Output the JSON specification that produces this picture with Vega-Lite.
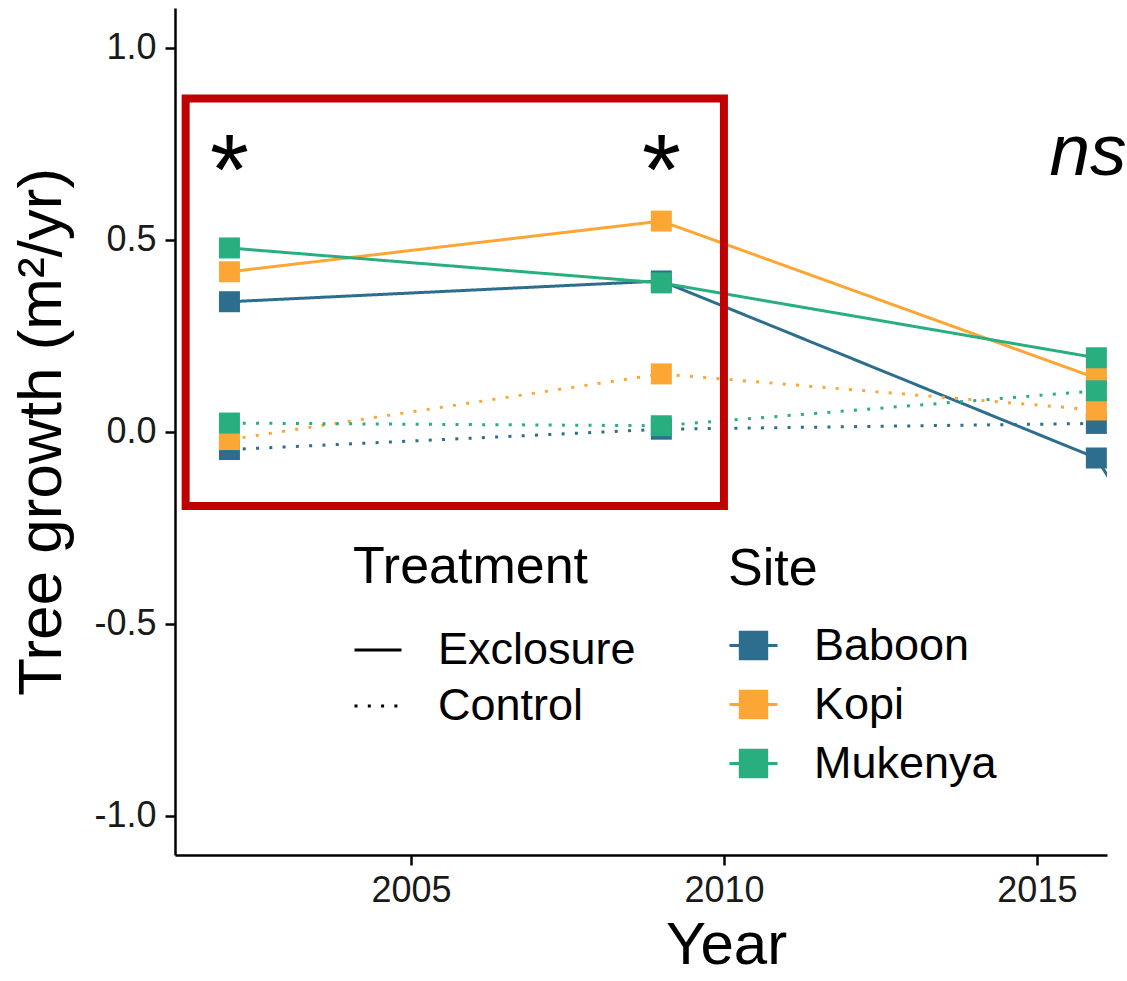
{
  "$schema": "https://vega.github.io/schema/vega-lite/v6.json",
  "width": 932,
  "height": 847,
  "autosize": {"type": "none"},
  "padding": {"left": 175, "top": 8, "right": 20, "bottom": 126},
  "background": "white",
  "config": {
    "font": "Liberation Sans",
    "view": {"stroke": null},
    "axis": {
      "grid": false,
      "domainColor": "black",
      "domainWidth": 2.5,
      "tickColor": "black",
      "tickWidth": 2.5,
      "tickSize": 10,
      "labelColor": "#1a1a1a",
      "labelFontSize": 36,
      "labelFont": "Liberation Sans",
      "titleFont": "Liberation Sans",
      "titleFontSize": 60,
      "titleFontWeight": "normal",
      "titleColor": "black"
    },
    "legend": {
      "titleFont": "Liberation Sans",
      "labelFont": "Liberation Sans",
      "titleFontSize": 52,
      "titleFontWeight": "normal",
      "titleColor": "black",
      "labelFontSize": 45,
      "labelColor": "black",
      "labelOffset": 35,
      "labelLimit": 0,
      "titleLimit": 0,
      "symbolOpacity": 1
    }
  },
  "datasets": {
    "growth": [
      {"Site": "Baboon", "Treatment": "Exclosure", "Year": 2002.1, "Growth": 0.339},
      {"Site": "Baboon", "Treatment": "Exclosure", "Year": 2009.0, "Growth": 0.393},
      {"Site": "Baboon", "Treatment": "Exclosure", "Year": 2015.95, "Growth": -0.068},
      {"Site": "Baboon", "Treatment": "Exclosure", "Year": 2017.0, "Growth": -0.34},
      {"Site": "Baboon", "Treatment": "Control", "Year": 2002.1, "Growth": -0.046},
      {"Site": "Baboon", "Treatment": "Control", "Year": 2009.0, "Growth": 0.007},
      {"Site": "Baboon", "Treatment": "Control", "Year": 2015.95, "Growth": 0.022},
      {"Site": "Kopi", "Treatment": "Exclosure", "Year": 2002.1, "Growth": 0.417},
      {"Site": "Kopi", "Treatment": "Exclosure", "Year": 2009.0, "Growth": 0.549},
      {"Site": "Kopi", "Treatment": "Exclosure", "Year": 2015.95, "Growth": 0.14},
      {"Site": "Kopi", "Treatment": "Exclosure", "Year": 2017.0, "Growth": -0.2},
      {"Site": "Kopi", "Treatment": "Control", "Year": 2002.1, "Growth": -0.02},
      {"Site": "Kopi", "Treatment": "Control", "Year": 2009.0, "Growth": 0.151},
      {"Site": "Kopi", "Treatment": "Control", "Year": 2015.95, "Growth": 0.057},
      {"Site": "Mukenya", "Treatment": "Exclosure", "Year": 2002.1, "Growth": 0.479},
      {"Site": "Mukenya", "Treatment": "Exclosure", "Year": 2009.0, "Growth": 0.388},
      {"Site": "Mukenya", "Treatment": "Exclosure", "Year": 2015.95, "Growth": 0.193},
      {"Site": "Mukenya", "Treatment": "Exclosure", "Year": 2017.0, "Growth": -0.22},
      {"Site": "Mukenya", "Treatment": "Control", "Year": 2002.1, "Growth": 0.023},
      {"Site": "Mukenya", "Treatment": "Control", "Year": 2009.0, "Growth": 0.016},
      {"Site": "Mukenya", "Treatment": "Control", "Year": 2015.95, "Growth": 0.107}
    ],
    "box": [
      {"Year": 2001.4, "Year2": 2010.0, "Growth": 0.868, "Growth2": -0.193}
    ],
    "stars": [
      {"Year": 2002.1, "Growth": 0.594, "label": "*"},
      {"Year": 2009.0, "Growth": 0.594, "label": "*"}
    ],
    "ns": [
      {"Year": 2015.2, "Growth": 0.669, "label": "ns"}
    ]
  },
  "encoding": {
    "x": {
      "field": "Year",
      "type": "quantitative",
      "scale": {"domain": [2001.23, 2016.12], "nice": false, "zero": false},
      "axis": {"values": [2005, 2010, 2015], "format": "d", "title": "Year", "labelPadding": 8, "titlePadding": 8, "titleX": 551}
    },
    "y": {
      "field": "Growth",
      "type": "quantitative",
      "scale": {"domain": [-1.102, 1.104], "nice": false, "zero": false},
      "axis": {"values": [-1, -0.5, 0, 0.5, 1], "format": ".1f", "labelExpr": "replace(datum.label, '−', '-')", "title": "Tree growth (m²/yr)", "titleFontSize": 62, "labelPadding": 9, "titlePadding": 20}
    }
  },
  "layer": [
    {
      "data": {"name": "growth"},
      "mark": {"type": "line", "clip": true, "strokeWidth": 3, "strokeCap": "butt"},
      "encoding": {
        "color": {
          "field": "Site",
          "type": "nominal",
          "scale": {"domain": ["Baboon", "Kopi", "Mukenya"], "range": ["#2D6E8E", "#FCA636", "#29AF7F"]},
          "legend": {
            "title": "Site",
            "orient": "none",
            "legendX": 553,
            "legendY": 536,
            "titlePadding": 24,
            "rowPadding": 10,
            "symbolType": "M-1,0H1M-0.55,-0.55H0.55V0.55H-0.55Z",
            "symbolSize": 2304,
            "symbolStrokeWidth": 3,
            "encode": {"symbols": {"update": {"fill": {"scale": "color", "field": "value"}, "stroke": {"scale": "color", "field": "value"}, "opacity": {"value": 1}}}}
          }
        },
        "strokeDash": {
          "field": "Treatment",
          "type": "nominal",
          "scale": {"domain": ["Exclosure", "Control"], "range": [[1, 0], [3, 10.3]]},
          "legend": {
            "title": "Treatment",
            "orient": "none",
            "legendX": 178,
            "legendY": 534,
            "titlePadding": 31,
            "rowPadding": 8,
            "symbolType": "stroke",
            "symbolSize": 2209,
            "symbolStrokeWidth": 3,
            "symbolStrokeColor": "black"
          }
        },
        "detail": {"field": "Treatment", "type": "nominal"}
      }
    },
    {
      "data": {"name": "growth"},
      "mark": {"type": "point", "shape": "square", "filled": true, "size": 441, "opacity": 1, "clip": true},
      "encoding": {
        "color": {"field": "Site", "type": "nominal"}
      }
    },
    {
      "data": {"name": "box"},
      "mark": {"type": "rect", "fill": "transparent", "stroke": "#C00000", "strokeWidth": 8},
      "encoding": {
        "x2": {"field": "Year2"},
        "y2": {"field": "Growth2"}
      }
    },
    {
      "data": {"name": "stars"},
      "mark": {"type": "text", "fontSize": 100, "font": "Liberation Sans", "align": "center", "baseline": "alphabetic", "color": "black"},
      "encoding": {"text": {"field": "label"}}
    },
    {
      "data": {"name": "ns"},
      "mark": {"type": "text", "fontSize": 73, "font": "Liberation Sans", "fontStyle": "italic", "align": "left", "baseline": "alphabetic", "color": "black"},
      "encoding": {"text": {"field": "label"}}
    }
  ]
}
